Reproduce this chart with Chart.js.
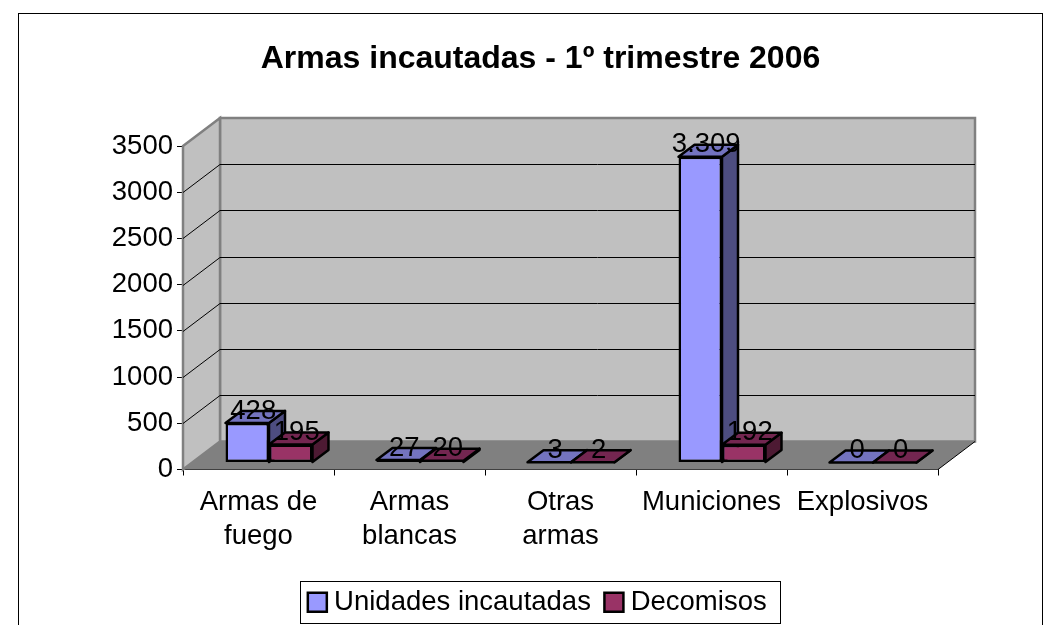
<!DOCTYPE html>
<html>
<head>
<meta charset="utf-8">
<title>Armas incautadas</title>
<script src="https://cdn.jsdelivr.net/npm/chart.js@4"></script>
<style>
    html, body { margin: 0; padding: 0; background: #fff; overflow: hidden; }
    canvas { display: block; }
</style>
</head>
<body>
<canvas id="armasChart" width="1062" height="625"></canvas>
<script>
// Datos
const categories = [['Armas de', 'fuego'], ['Armas', 'blancas'], ['Otras', 'armas'], ['Municiones'], ['Explosivos']];
const unidadesIncautadas = [428, 27, 3, 3309, 0];
const decomisos = [195, 20, 2, 192, 0];
const FONT = '"Liberation Sans", Arial, sans-serif';

// Fondo 3D: profundidad de la caja y de cada barra
const boxDepth = { x: 37, y: -28 };
const barDepth = { x: 16, y: -12 };
const barShift = { x: 10.5, y: -7 };

// Caras de cada serie: [frente, tapa, lateral]
const blueFaces = ['#9999ff', '#7373bf', '#4d4d80'];
const redFaces = ['#993366', '#732650', '#4d1a33'];

function formatValue(v) {
    return String(v).replace(/\B(?=(\d{3})+$)/g, '.');
}

function poly(ctx, pts, fill, stroke, lw) {
    ctx.beginPath();
    pts.forEach((p, i) => i ? ctx.lineTo(p[0], p[1]) : ctx.moveTo(p[0], p[1]));
    ctx.closePath();
    if (fill) { ctx.fillStyle = fill; ctx.fill(); }
    if (stroke) { ctx.strokeStyle = stroke; ctx.lineWidth = lw; ctx.stroke(); }
}

const box3d = {
    id: 'box3d',
    beforeDatasetsDraw(chart) {
        const { ctx, chartArea: a, scales: { y } } = chart;
        const dx = boxDepth.x, dy = boxDepth.y;
        ctx.save();
        // Marco exterior
        ctx.strokeStyle = '#000';
        ctx.lineWidth = 1;
        ctx.strokeRect(18.5, 13.5, 1024, 700);

        // Paredes y suelo
        poly(ctx, [[a.left + dx, a.top + dy], [a.right + dx, a.top + dy], [a.right + dx, a.bottom + dy], [a.left + dx, a.bottom + dy]], '#c0c0c0', '#808080', 2.5);
        poly(ctx, [[a.left, a.top], [a.left + dx, a.top + dy], [a.left + dx, a.bottom + dy], [a.left, a.bottom]], '#c0c0c0', '#808080', 2.5);
        poly(ctx, [[a.left, a.bottom], [a.right, a.bottom], [a.right + dx, a.bottom + dy], [a.left + dx, a.bottom + dy]], '#808080');

        ctx.strokeStyle = '#000';
        ctx.lineWidth = 1;
        y.ticks.forEach((t, i) => {
            const py = Math.round(y.getPixelForTick(i)) + 0.5;
            if (i < y.ticks.length - 1 && t.value > 0) {
                ctx.beginPath();
                ctx.moveTo(a.left, py);
                ctx.lineTo(a.left + dx, py + dy);
                ctx.stroke();
            }
            if (t.value > 0 && t.value < y.max) {
                ctx.beginPath();
                ctx.moveTo(a.left + dx, py + dy);
                ctx.lineTo(a.right + dx, py + dy);
                ctx.stroke();
            }
        });
        ctx.beginPath();
        ctx.moveTo(a.right, a.bottom);
        ctx.lineTo(a.right + dx, a.bottom + dy);
        ctx.stroke();

        // Tapa y lateral de las barras, debajo de los frentes de Chart.js
        ctx.translate(barShift.x, barShift.y);
        ctx.lineJoin = 'round';
        [blueFaces, redFaces].forEach((faces, i) => {
            chart.getDatasetMeta(i).data.forEach(bar => {
                const p = bar.getProps(['x', 'y', 'base', 'width'], true);
                const l = p.x - p.width / 2, r = p.x + p.width / 2;
                const bx = barDepth.x, by = barDepth.y;
                poly(ctx, [[r, p.y], [r + bx, p.y + by], [r + bx, p.base + by], [r, p.base]], faces[2], '#000', 2.5);
                poly(ctx, [[l, p.y], [l + bx, p.y + by], [r + bx, p.y + by], [r, p.y]], faces[1], '#000', 2.5);
            });
        });
        ctx.restore();
    },
    beforeDatasetDraw(chart) {
        chart.ctx.save();
        chart.ctx.translate(barShift.x, barShift.y);
    },
    afterDatasetDraw(chart) {
        chart.ctx.restore();
    },
    // Etiquetas de valor
    afterDatasetsDraw(chart) {
        const { ctx } = chart;
        ctx.save();
        ctx.fillStyle = '#000';
        ctx.font = '27.5px ' + FONT;
        ctx.textAlign = 'center';
        ctx.textBaseline = 'middle';
        chart.data.datasets.forEach((ds, i) => {
            chart.getDatasetMeta(i).data.forEach((bar, j) => {
                const p = bar.getProps(['x', 'y'], true);
                ctx.fillText(formatValue(ds.data[j]), p.x + barShift.x + 6, p.y + barShift.y - 12);
            });
        });
        ctx.restore();
    },
    // Caja de la leyenda
    afterDraw(chart) {
        const { ctx, legend } = chart;
        const boxes = legend.legendHitBoxes;
        const first = boxes[0];
        const last = boxes[boxes.length - 1];
        ctx.save();
        ctx.strokeStyle = '#000';
        ctx.lineWidth = 1;
        const left = Math.round(first.left - 14.5) + 0.5;
        const right = Math.round(last.left + last.width + 13) + 0.5;
        const mid = first.top + first.height / 2;
        ctx.strokeRect(left, Math.round(mid - 21) + 0.5, right - left, 42);
        ctx.restore();
    }
};

new Chart(document.getElementById('armasChart').getContext('2d'), {
    type: 'bar',
    data: {
        labels: categories,
        datasets: [
            { label: 'Unidades incautadas', data: unidadesIncautadas, backgroundColor: blueFaces[0], borderColor: '#000', borderWidth: 2.5, borderSkipped: false, clip: false },
            { label: 'Decomisos', data: decomisos, backgroundColor: redFaces[0], borderColor: '#000', borderWidth: 2.5, borderSkipped: false, clip: false }
        ]
    },
    options: {
        responsive: false,
        animation: false,
        // la leyenda lleva relleno grande para separar sus dos entradas, por eso el inferior es negativo
        layout: { padding: { left: 19, right: 0, top: 0, bottom: -1 } },
        datasets: { bar: { categoryPercentage: 0.576, barPercentage: 1 } },
        scales: {
            x: {
                afterFit(scale) { scale.height = 99; scale.paddingRight = 124; },
                border: { color: '#000', width: 1 },
                grid: { drawOnChartArea: false, color: '#000', tickLength: 6 },
                ticks: { color: '#000', font: { family: FONT, size: 27.5, lineHeight: 1.24 }, autoSkip: false, maxRotation: 0, padding: 10 }
            },
            y: {
                min: 0,
                max: 3500,
                afterFit(scale) { scale.width = 164; },
                border: { color: '#000', width: 1 },
                grid: { drawOnChartArea: false, color: '#000', tickLength: 6 },
                ticks: { color: '#000', font: { family: FONT, size: 27.5 }, stepSize: 500, padding: 4, callback: v => v }
            }
        },
        plugins: {
            tooltip: { enabled: false },
            title: {
                display: true,
                text: 'Armas incautadas - 1º trimestre 2006',
                color: '#000',
                font: { family: FONT, size: 32, weight: 'bold' },
                padding: { top: 40, bottom: 67.6 }
            },
            legend: {
                position: 'bottom',
                labels: {
                    color: '#000',
                    font: { family: FONT, size: 27.5 },
                    usePointStyle: true,
                    pointStyle: 'rect',
                    boxWidth: 6,
                    boxHeight: 19,
                    padding: 20
                }
            }
        }
    },
    plugins: [box3d]
});
</script>
</body>
</html>
